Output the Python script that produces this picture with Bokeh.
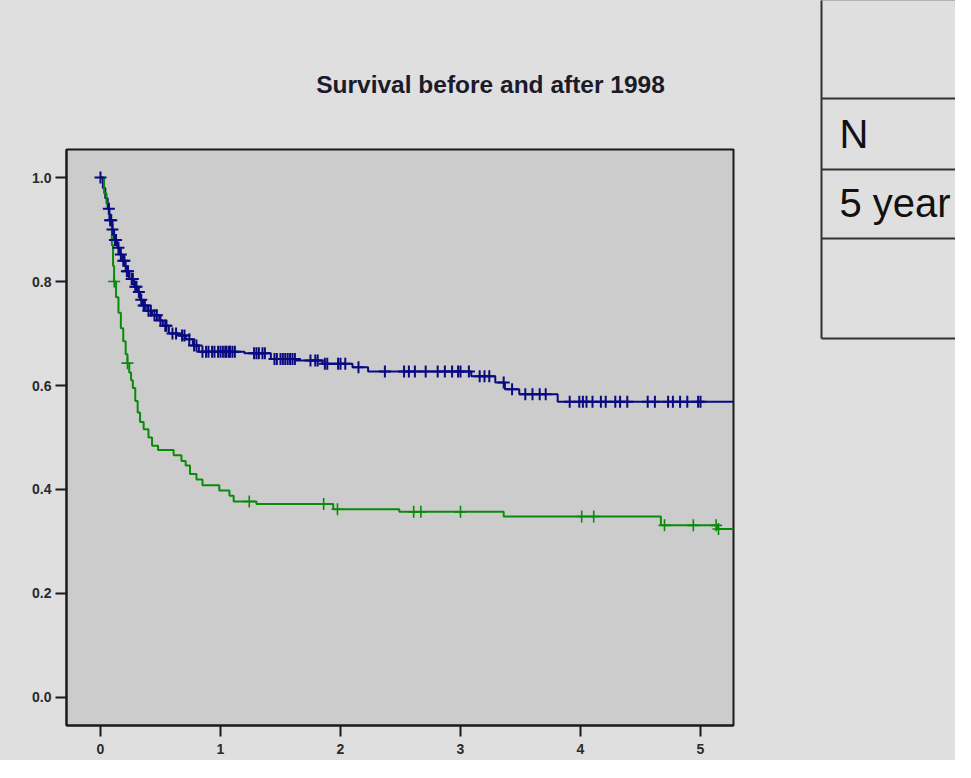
import numpy as np
from bokeh.plotting import figure
from bokeh.models import Range1d, FixedTicker, PrintfTickFormatter, ColumnDataSource
from bokeh.layouts import row, column
from bokeh.core.properties import value
from bokeh.embed import file_html
from bokeh.resources import INLINE

# ---------------- data ----------------
title_text = "Survival before and after 1998"
x_ticks = [0, 1, 2, 3, 4, 5]
y_ticks = [0.0, 0.2, 0.4, 0.6, 0.8, 1.0]

# Kaplan-Meier step points (time in years, survival after the step)
times_blue = [0, 0.02, 0.04, 0.06, 0.075, 0.10, 0.114, 0.14, 0.16, 0.183, 0.21, 0.24,
              0.28, 0.31, 0.33, 0.35, 0.39, 0.43, 0.49, 0.52, 0.57, 0.66, 0.71, 0.77,
              0.82, 1.20, 1.42, 1.63, 1.85, 2.10, 2.23, 3.09, 3.29, 3.37, 3.49, 3.81, 5.30]
surv_blue = [1.0, 0.98, 0.96, 0.94, 0.918, 0.90, 0.88, 0.865, 0.852, 0.84, 0.82, 0.805,
             0.79, 0.78, 0.765, 0.754, 0.744, 0.735, 0.725, 0.715, 0.70, 0.696, 0.689, 0.677,
             0.665, 0.662, 0.651, 0.648, 0.642, 0.635, 0.627, 0.618, 0.606, 0.593, 0.583, 0.569, 0.569]
censor_blue = [0.0, 0.07, 0.08, 0.09, 0.10, 0.12, 0.13, 0.15, 0.17, 0.19, 0.20, 0.22, 0.23,
               0.26, 0.27, 0.29, 0.30, 0.32, 0.34, 0.36, 0.37, 0.40, 0.42, 0.45, 0.47, 0.50,
               0.54, 0.55, 0.60, 0.63, 0.68, 0.70, 0.74, 0.78, 0.80,
               0.85, 0.88, 0.90, 0.93, 0.95, 0.98, 1.00, 1.02, 1.04, 1.05, 1.07, 1.08, 1.10, 1.12,
               1.28, 1.30, 1.32, 1.35, 1.37,
               1.45, 1.47, 1.50, 1.52, 1.54, 1.56, 1.58, 1.60, 1.62,
               1.75, 1.79, 1.81, 1.87, 1.89, 1.98, 2.00, 2.04, 2.15,
               2.37, 2.53, 2.57, 2.62, 2.71, 2.81, 2.87, 2.93, 2.98, 3.00, 3.07,
               3.16, 3.20, 3.24, 3.36, 3.43, 3.54, 3.60, 3.66, 3.71,
               3.91, 3.99, 4.02, 4.05, 4.10, 4.17, 4.21, 4.29, 4.33, 4.39, 4.56, 4.62,
               4.73, 4.77, 4.83, 4.89, 4.98, 5.00]

times_green = [0, 0.03, 0.05, 0.07, 0.085, 0.095, 0.105, 0.114, 0.13, 0.15, 0.17, 0.19, 0.21,
               0.225, 0.24, 0.255, 0.27, 0.29, 0.31, 0.33, 0.36, 0.40, 0.43, 0.48, 0.61, 0.675,
               0.71, 0.746, 0.80, 0.85, 0.99, 1.075, 1.11, 1.30, 1.94, 2.49, 3.36, 4.67, 5.14, 5.30]
surv_green = [1.0, 0.97, 0.95, 0.93, 0.91, 0.87, 0.83, 0.80, 0.77, 0.74, 0.71, 0.685, 0.66,
              0.643, 0.625, 0.61, 0.595, 0.57, 0.548, 0.53, 0.516, 0.50, 0.484, 0.476, 0.466, 0.455,
              0.446, 0.43, 0.419, 0.408, 0.398, 0.388, 0.377, 0.372, 0.362, 0.357, 0.348, 0.331, 0.324, 0.324]
censor_green = [0.114, 0.225, 1.24, 1.86, 1.975, 2.61, 2.67, 3.00, 4.01, 4.11, 4.70, 4.94, 5.13, 5.15]

table_rows = ["", "N", "5 year", ""]

BLUE = "#0a0a80"
GREEN = "#0a8a0a"
PAGE_BG = "#dfdfdf"
PLOT_BG = "#cccccc"


def surv_at(times, surv, t):
    times = np.asarray(times)
    surv = np.asarray(surv)
    idx = np.searchsorted(times, np.asarray(t), side="right") - 1
    return surv[idx]


def blank_fig(w, h, xr, yr):
    f = figure(width=w, height=h, x_range=Range1d(*xr), y_range=Range1d(*yr),
               output_backend="svg", toolbar_location=None, min_border=0,
               x_axis_location=None, y_axis_location=None, frame_align=False)
    f.background_fill_color = PAGE_BG
    f.border_fill_color = PAGE_BG
    f.outline_line_color = None
    f.grid.visible = False
    return f


# ---------------- title strip (page pixel coordinates) ----------------
TITLE_H = 139
tf = blank_fig(792, TITLE_H, (8, 800), (8 + TITLE_H, 8))
tf.text(x=[498], y=[92], text=[title_text], text_align="center", text_baseline="alphabetic",
        text_font=value("Liberation Sans"), text_font_style="bold", text_font_size="24.5px",
        text_color="#1a1a2a")

# ---------------- main plot ----------------
p = figure(width=792, height=760 - TITLE_H,
           x_range=Range1d(-0.283, 5.275), y_range=Range1d(-0.054, 1.054),
           output_backend="svg", toolbar_location=None, frame_align=False,
           min_border_left=66, min_border_right=59, min_border_top=10, min_border_bottom=35)
p.background_fill_color = PLOT_BG
p.border_fill_color = PAGE_BG
p.outline_line_color = "#1a1a1a"
p.outline_line_width = 2
p.grid.visible = False

p.xaxis.ticker = FixedTicker(ticks=x_ticks)
p.yaxis.ticker = FixedTicker(ticks=y_ticks)
p.yaxis.formatter = PrintfTickFormatter(format="%.1f")
for ax in (p.xaxis, p.yaxis):
    ax.axis_line_color = "#1a1a1a"
    ax.axis_line_width = 2
    ax.major_tick_line_color = "#1a1a1a"
    ax.major_tick_line_width = 2
    ax.major_tick_in = 0
    ax.minor_tick_line_color = None
    ax.major_label_text_font = "Liberation Sans"
    ax.major_label_text_font_style = "bold"
    ax.major_label_text_font_size = "14px"
    ax.major_label_text_color = "#2a2a2a"
p.xaxis.major_tick_out = 11
p.xaxis.major_label_standoff = 7
p.yaxis.major_tick_out = 11
p.yaxis.major_label_standoff = 4

p.step(times_blue, surv_blue, mode="after", line_color=BLUE, line_width=2)
p.step(times_green, surv_green, mode="after", line_color=GREEN, line_width=2)

gsrc = ColumnDataSource(dict(x=censor_green, y=surv_at(times_green, surv_green, censor_green)))
p.scatter("x", "y", source=gsrc, marker="cross", size=12, line_color=GREEN, line_width=1.6)
bsrc = ColumnDataSource(dict(x=censor_blue, y=surv_at(times_blue, surv_blue, censor_blue)))
p.scatter("x", "y", source=bsrc, marker="cross", size=12, line_color=BLUE, line_width=2)

# ---------------- table (right side, page pixel coordinates) ----------------
tb = blank_fig(163, 760, (800, 963), (768, 8))
row_lines = [7, 106, 177, 246, 346]
tb.segment(x0=[829] * len(row_lines), y0=row_lines, x1=[980] * len(row_lines), y1=row_lines,
           line_color="#333333", line_width=2)
tb.segment(x0=[829], y0=[row_lines[0]], x1=[829], y1=[row_lines[-1]],
           line_color="#333333", line_width=2)
tb.text(x=[847, 847], y=[141, 210], text=[table_rows[1], table_rows[2]],
        text_font=value("Liberation Sans"), text_font_size="40px",
        text_baseline="alphabetic", text_color="#111111")

bg = {"background-color": PAGE_BG}
layout = row(column(tf, p, spacing=0, styles=bg), tb, spacing=0, styles=bg)
open("out.html", "w").write(file_html(layout, INLINE, title="Survival"))
